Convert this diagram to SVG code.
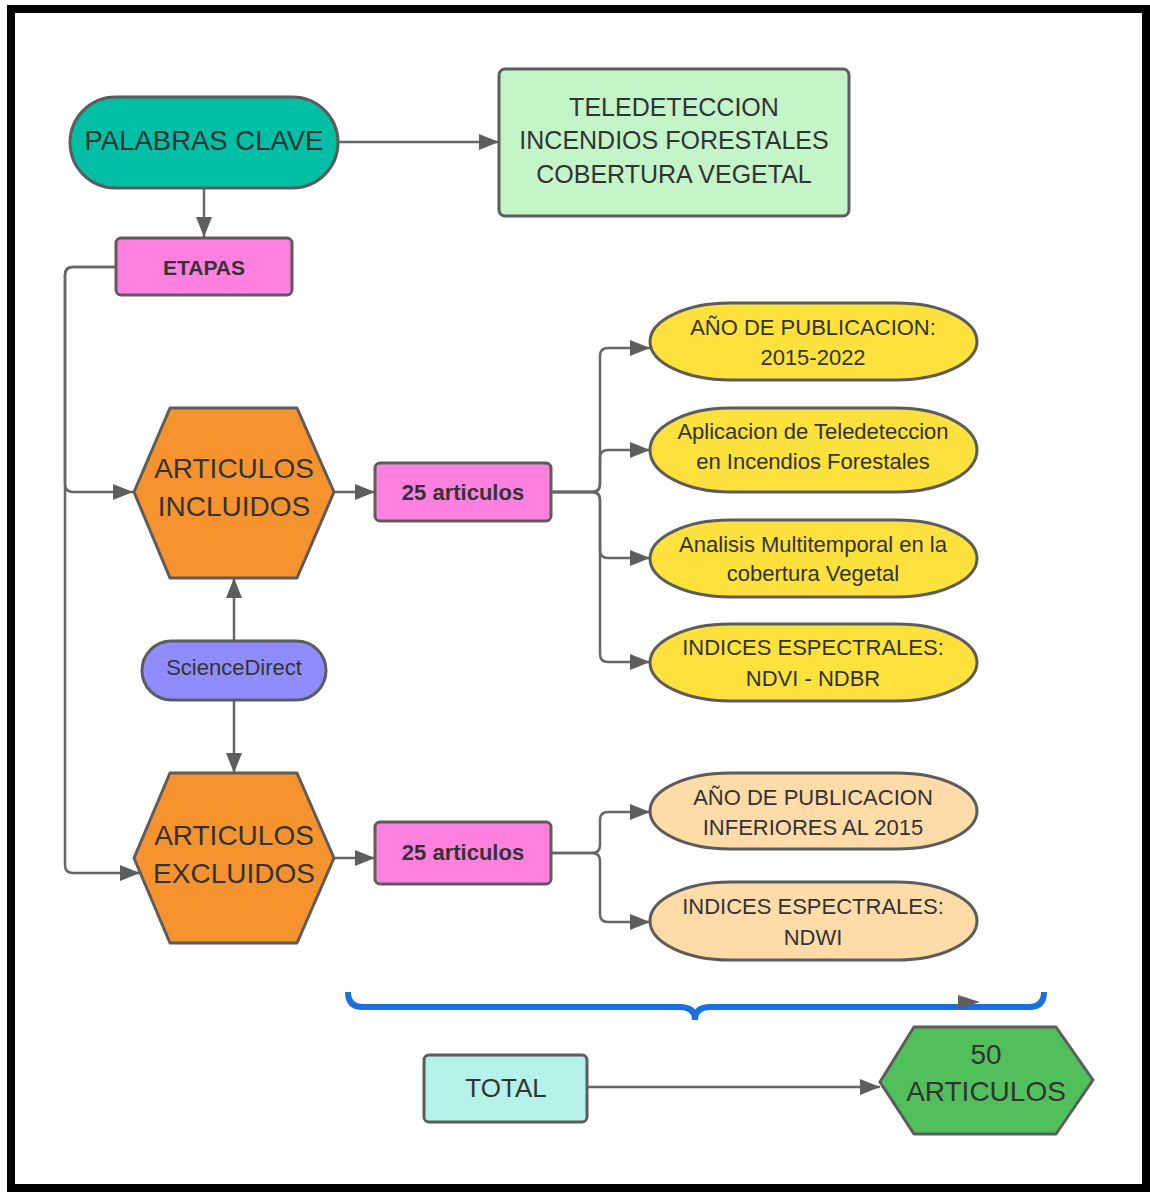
<svg xmlns="http://www.w3.org/2000/svg" width="1150" height="1192" viewBox="0 0 1150 1192">
<style>
.t{font-family:"Liberation Sans",Arial,sans-serif;fill:#333;text-anchor:middle;dominant-baseline:central}
.b{font-weight:bold}
.shape{stroke:#5c5c5c;stroke-width:3;stroke-linejoin:round}
.c{fill:none;stroke:#666;stroke-width:2.5}
</style>
<defs>
<marker id="ah" viewBox="0 0 20 16" refX="20" refY="8" markerWidth="20" markerHeight="16" markerUnits="userSpaceOnUse" orient="auto"><path d="M0,0 L20,8 L0,16 z" fill="#5e5e5e"/></marker>
</defs>
<rect x="11" y="9" width="1135" height="1179" fill="#fff" stroke="#000" stroke-width="8"/>

<g id="connectors">
<path class="c" d="M338,142 H499" marker-end="url(#ah)"/>
<path class="c" d="M204,188 V237" marker-end="url(#ah)"/>
<path class="c" d="M116,267 H73 Q65,267 65,275 V484 Q65,492 73,492 H133" marker-end="url(#ah)"/>
<path class="c" d="M116,267 H73 Q65,267 65,275 V865 Q65,873 73,873 H140" marker-end="url(#ah)"/>
<path class="c" d="M335,492 H375" marker-end="url(#ah)"/>
<path class="c" d="M551,492 H592 Q600,492 600,484 V356 Q600,348 608,348 H650" marker-end="url(#ah)"/>
<path class="c" d="M551,492 H592 Q600,492 600,484 V458 Q600,450 608,450 H650" marker-end="url(#ah)"/>
<path class="c" d="M551,492 H592 Q600,492 600,500 V550 Q600,558 608,558 H650" marker-end="url(#ah)"/>
<path class="c" d="M551,492 H592 Q600,492 600,500 V654 Q600,662 608,662 H650" marker-end="url(#ah)"/>
<path class="c" d="M234,641 V578" marker-end="url(#ah)"/>
<path class="c" d="M234,700 V773" marker-end="url(#ah)"/>
<path class="c" d="M335,858 H375" marker-end="url(#ah)"/>
<path class="c" d="M551,853 H592 Q600,853 600,845 V820 Q600,812 608,812 H650" marker-end="url(#ah)"/>
<path class="c" d="M551,853 H592 Q600,853 600,861 V914 Q600,922 608,922 H650" marker-end="url(#ah)"/>
<path class="c" d="M587,1087 H880" marker-end="url(#ah)"/>
</g>

<g id="brace">
<path d="M348,992 Q348,1007 363,1007 H680 Q695,1007 695,1020 Q695,1007 710,1007 H1029 Q1044,1007 1044,992" fill="none" stroke="#1a6fe0" stroke-width="6"/>
<path d="M958,995 L980,1002 L958,1009 z" fill="#5e5e5e"/>
</g>

<g id="palabras">
<rect class="shape" x="70" y="97" width="268" height="91" rx="45.5" fill="#00bfa5"/>
<text class="t" x="204" y="140" font-size="27.5">PALABRAS CLAVE</text>
</g>
<g id="tele">
<rect class="shape" x="499" y="69" width="350" height="147" rx="6" fill="#c3f5c8"/>
<text class="t" x="674" y="107" font-size="25">TELEDETECCION</text>
<text class="t" x="674" y="140" font-size="25">INCENDIOS FORESTALES</text>
<text class="t" x="674" y="174" font-size="25">COBERTURA VEGETAL</text>
</g>
<g id="etapas">
<rect class="shape" x="116" y="238" width="176" height="57" rx="5" fill="#ff80df"/>
<text class="t b" x="204" y="267" font-size="21">ETAPAS</text>
</g>
<g id="incluidos">
<polygon class="shape" points="134,492 170,408 297,408 334,492 297,578 170,578" fill="#f7932f"/>
<text class="t" x="234" y="468" font-size="28">ARTICULOS</text>
<text class="t" x="234" y="506" font-size="28">INCLUIDOS</text>
</g>
<g id="box1">
<rect class="shape" x="375" y="463" width="176" height="58" rx="5" fill="#ff80df"/>
<text class="t b" x="463" y="492" font-size="22">25 articulos</text>
</g>
<g id="sciencedirect">
<rect class="shape" x="142" y="641" width="184" height="59" rx="29.5" fill="#8f8cff"/>
<text class="t" x="234" y="667" font-size="22">ScienceDirect</text>
</g>
<g id="excluidos">
<polygon class="shape" points="134,858 170,773 297,773 334,858 297,943 170,943" fill="#f7932f"/>
<text class="t" x="234" y="835" font-size="28">ARTICULOS</text>
<text class="t" x="234" y="873" font-size="28">EXCLUIDOS</text>
</g>
<g id="box2">
<rect class="shape" x="375" y="822" width="176" height="62" rx="5" fill="#ff80df"/>
<text class="t b" x="463" y="852" font-size="22">25 articulos</text>
</g>
<g id="e1">
<rect class="shape" x="650" y="303" width="327" height="77" rx="80" ry="38.5" fill="#fde13c"/>
<text class="t" x="813" y="327" font-size="22">AÑO DE PUBLICACION:</text>
<text class="t" x="813" y="357" font-size="22">2015-2022</text>
</g>
<g id="e2">
<rect class="shape" x="650" y="408" width="327" height="84" rx="80" ry="42" fill="#fde13c"/>
<text class="t" x="813" y="431" font-size="22">Aplicacion de Teledeteccion</text>
<text class="t" x="813" y="461" font-size="22">en Incendios Forestales</text>
</g>
<g id="e3">
<rect class="shape" x="650" y="520" width="327" height="77" rx="80" ry="38.5" fill="#fde13c"/>
<text class="t" x="813" y="544" font-size="22">Analisis Multitemporal en la</text>
<text class="t" x="813" y="573" font-size="22">cobertura Vegetal</text>
</g>
<g id="e4">
<rect class="shape" x="650" y="624" width="327" height="77" rx="80" ry="38.5" fill="#fde13c"/>
<text class="t" x="813" y="647" font-size="22">INDICES ESPECTRALES:</text>
<text class="t" x="813" y="678" font-size="22">NDVI - NDBR</text>
</g>
<g id="e5">
<rect class="shape" x="650" y="773" width="327" height="76" rx="80" ry="38" fill="#ffdba8"/>
<text class="t" x="813" y="797" font-size="22">AÑO DE PUBLICACION</text>
<text class="t" x="813" y="827" font-size="22">INFERIORES AL 2015</text>
</g>
<g id="e6">
<rect class="shape" x="650" y="882" width="327" height="78" rx="80" ry="39" fill="#ffdba8"/>
<text class="t" x="813" y="906" font-size="22">INDICES ESPECTRALES:</text>
<text class="t" x="813" y="937" font-size="22">NDWI</text>
</g>
<g id="total">
<rect class="shape" x="424" y="1055" width="163" height="67" rx="5" fill="#b5f3ea"/>
<text class="t" x="506" y="1088" font-size="26">TOTAL</text>
</g>
<g id="cincuenta">
<polygon class="shape" points="880,1082 914,1027 1056,1027 1093,1080 1056,1134 914,1134" fill="#52c05a"/>
<text class="t" x="986" y="1054" font-size="28">50</text>
<text class="t" x="986" y="1091" font-size="28">ARTICULOS</text>
</g>
</svg>
